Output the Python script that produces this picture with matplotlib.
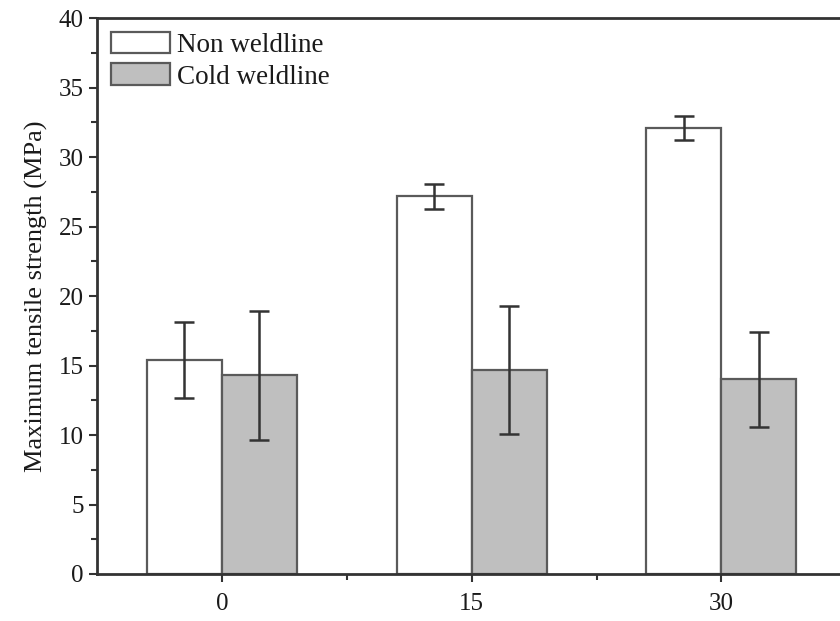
import matplotlib.pyplot as plt
import numpy as np

# data
positions = [0, 15, 30]
non_weld = [15.4, 27.2, 32.1]
non_weld_err = [2.75, 0.9, 0.85]
cold_weld = [14.3, 14.7, 14.0]
cold_weld_err = [4.65, 4.6, 3.4]

plt.rcParams['font.family'] = ['Liberation Serif', 'DejaVu Serif']

fig = plt.figure(figsize=(8.4, 6.21), dpi=100)
ax = fig.add_axes([0.1155, 0.0757, 0.892, 0.895])

x = np.array(positions)
w = 4.5
edge = '#5a5a5a'
ax.bar(x - w / 2, non_weld, w, color='white', edgecolor=edge, linewidth=1.6,
       label='Non weldline')
ax.bar(x + w / 2, cold_weld, w, color='#bfbfbf', edgecolor=edge, linewidth=1.6,
       label='Cold weldline')
ax.errorbar(x - w / 2, non_weld, yerr=non_weld_err, fmt='none', ecolor='#333333',
            elinewidth=1.8, capsize=7, capthick=1.8)
ax.errorbar(x + w / 2, cold_weld, yerr=cold_weld_err, fmt='none', ecolor='#333333',
            elinewidth=1.8, capsize=7, capthick=1.8)

ax.set_xlim(-7.5, 37.5)
ax.set_ylim(0, 40)
ax.set_xticks(positions)
ax.set_xticks([7.5, 22.5], minor=True)
ax.set_yticks(np.arange(0, 41, 5))
ax.set_yticks(np.arange(2.5, 40, 5), minor=True)
ax.tick_params(which='major', direction='out', length=6, width=1.5, labelsize=18,
               color='#333333', labelcolor='#1a1a1a')
ax.tick_params(which='minor', direction='out', length=4, width=1.5, color='#333333')
ax.tick_params(axis='x', pad=8)
for s in ax.spines.values():
    s.set_linewidth(2)
    s.set_color('#333333')

ax.set_ylabel('Maximum tensile strength (MPa)', fontsize=19, color='#1a1a1a', labelpad=8)

ax.legend(loc='upper left', frameon=False, fontsize=19.5, handlelength=2.2,
          handleheight=0.85, handletextpad=0.25, labelspacing=0.2,
          borderaxespad=0.3, borderpad=0.2, labelcolor='#1a1a1a')

plt.savefig('out.png', dpi=100)
